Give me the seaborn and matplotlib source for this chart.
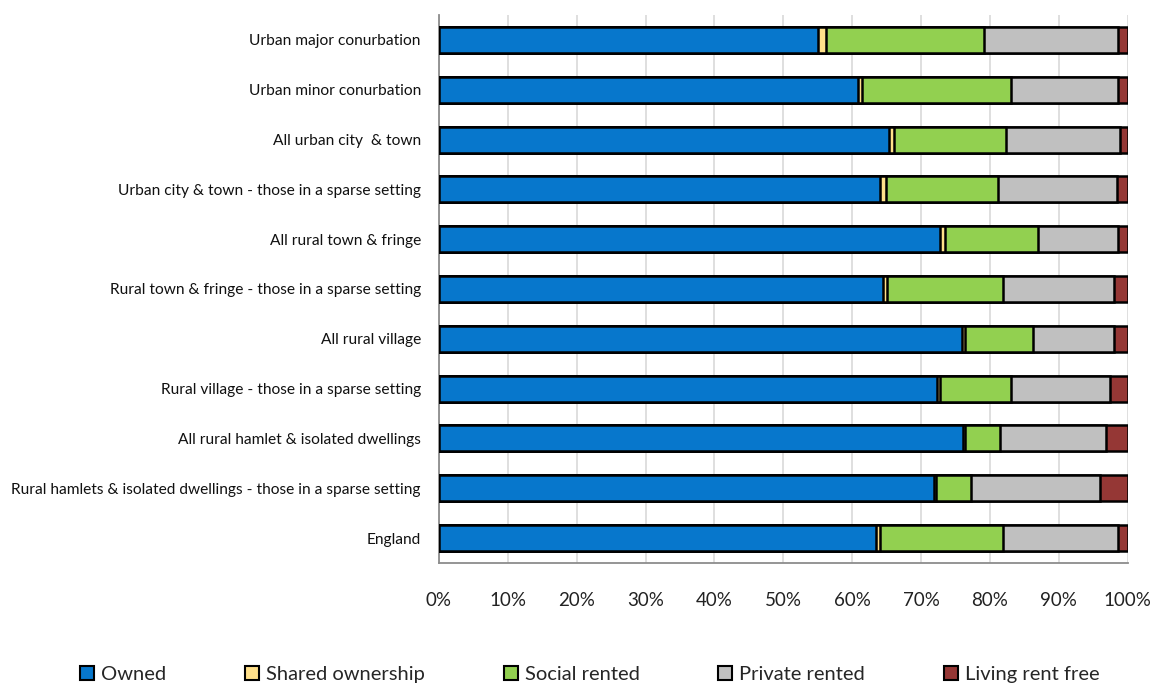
import matplotlib
matplotlib.use("Agg")
import matplotlib.pyplot as plt
import seaborn as sns
import pandas as pd
import numpy as np
from matplotlib.patches import Patch
from matplotlib.ticker import FixedLocator, PercentFormatter

categories = [
    "Urban major conurbation",
    "Urban minor conurbation",
    "All urban city  & town",
    "Urban city & town - those in a sparse setting",
    "All rural town & fringe",
    "Rural town & fringe - those in a sparse setting",
    "All rural village",
    "Rural village - those in a sparse setting",
    "All rural hamlet & isolated dwellings",
    "Rural hamlets & isolated dwellings - those in a sparse setting",
    "England",
]
owned = [55.1, 60.9, 65.3, 64.1, 72.7, 64.4, 76.0, 72.3, 76.1, 71.8, 63.4]
shared = [1.1, 0.5, 0.8, 0.8, 0.8, 0.6, 0.3, 0.4, 0.3, 0.3, 0.7]
social = [22.9, 21.6, 16.2, 16.2, 13.5, 16.9, 9.9, 10.4, 5.1, 5.1, 17.8]
private = [19.5, 15.6, 16.5, 17.4, 11.6, 16.1, 11.8, 14.3, 15.4, 18.8, 16.7]
rentfree = [1.4, 1.4, 1.2, 1.5, 1.4, 2.0, 2.0, 2.6, 3.1, 4.0, 1.4]

series_names = ["Owned", "Shared ownership", "Social rented", "Private rented", "Living rent free"]
colors = ["#0777CC", "#FFE08A", "#92D050", "#C0C0C0", "#953735"]

sns.set_theme(style="white")
plt.rcParams["font.family"] = ["Lato", "DejaVu Sans"]

fig = plt.figure(figsize=(11.52, 6.84), dpi=100)
ax = fig.add_axes([0.381, 0.177, 0.598, 0.801])

vals = np.array([owned, shared, social, private, rentfree])
cum = np.cumsum(vals, axis=0)

# draw from widest cumulative to narrowest
for i in range(len(series_names) - 1, -1, -1):
    df = pd.DataFrame({"cat": categories, "value": cum[i]})
    sns.barplot(data=df, x="value", y="cat", orient="h", color=colors[i],
                edgecolor="black", linewidth=1.8, width=0.52, ax=ax,
                saturation=1, zorder=3)

ax.set_xlim(0, 100)
ax.set_ylim(len(categories) - 0.5, -0.5)
ax.set_xlabel("")
ax.set_ylabel("")
ax.xaxis.set_major_locator(FixedLocator(np.arange(0, 101, 10)))
ax.xaxis.set_major_formatter(PercentFormatter(decimals=0))
ax.grid(axis="x", color="#D9D9D9", linewidth=1.2, zorder=0)
ax.set_axisbelow(True)

for s in ["top", "right"]:
    ax.spines[s].set_visible(False)
for s in ["left", "bottom"]:
    ax.spines[s].set_color("#8C8C8C")
    ax.spines[s].set_linewidth(1.3)

ax.tick_params(axis="x", which="major", direction="out", length=5, width=1.2,
               color="#8C8C8C", labelsize=13.5, pad=16, labelcolor="#222222")
ax.tick_params(axis="y", which="major", length=0, labelsize=11.2, pad=13,
               labelcolor="#111111")
ax.yaxis.set_minor_locator(FixedLocator(np.arange(-0.5, len(categories), 1.0)))
ax.tick_params(axis="y", which="minor", direction="out", length=5, width=1.2,
               color="#8C8C8C")

handles = [Patch(facecolor=c, edgecolor="black", linewidth=1.5, label=n)
           for n, c in zip(series_names, colors)]
fig.legend(handles=handles, loc="lower center", bbox_to_anchor=(0.512, -0.025),
           ncol=5, frameon=False, fontsize=14.5, handlelength=0.7,
           handleheight=0.7, handletextpad=0.35, columnspacing=3.9)

fig.savefig("out.png", dpi=100)
